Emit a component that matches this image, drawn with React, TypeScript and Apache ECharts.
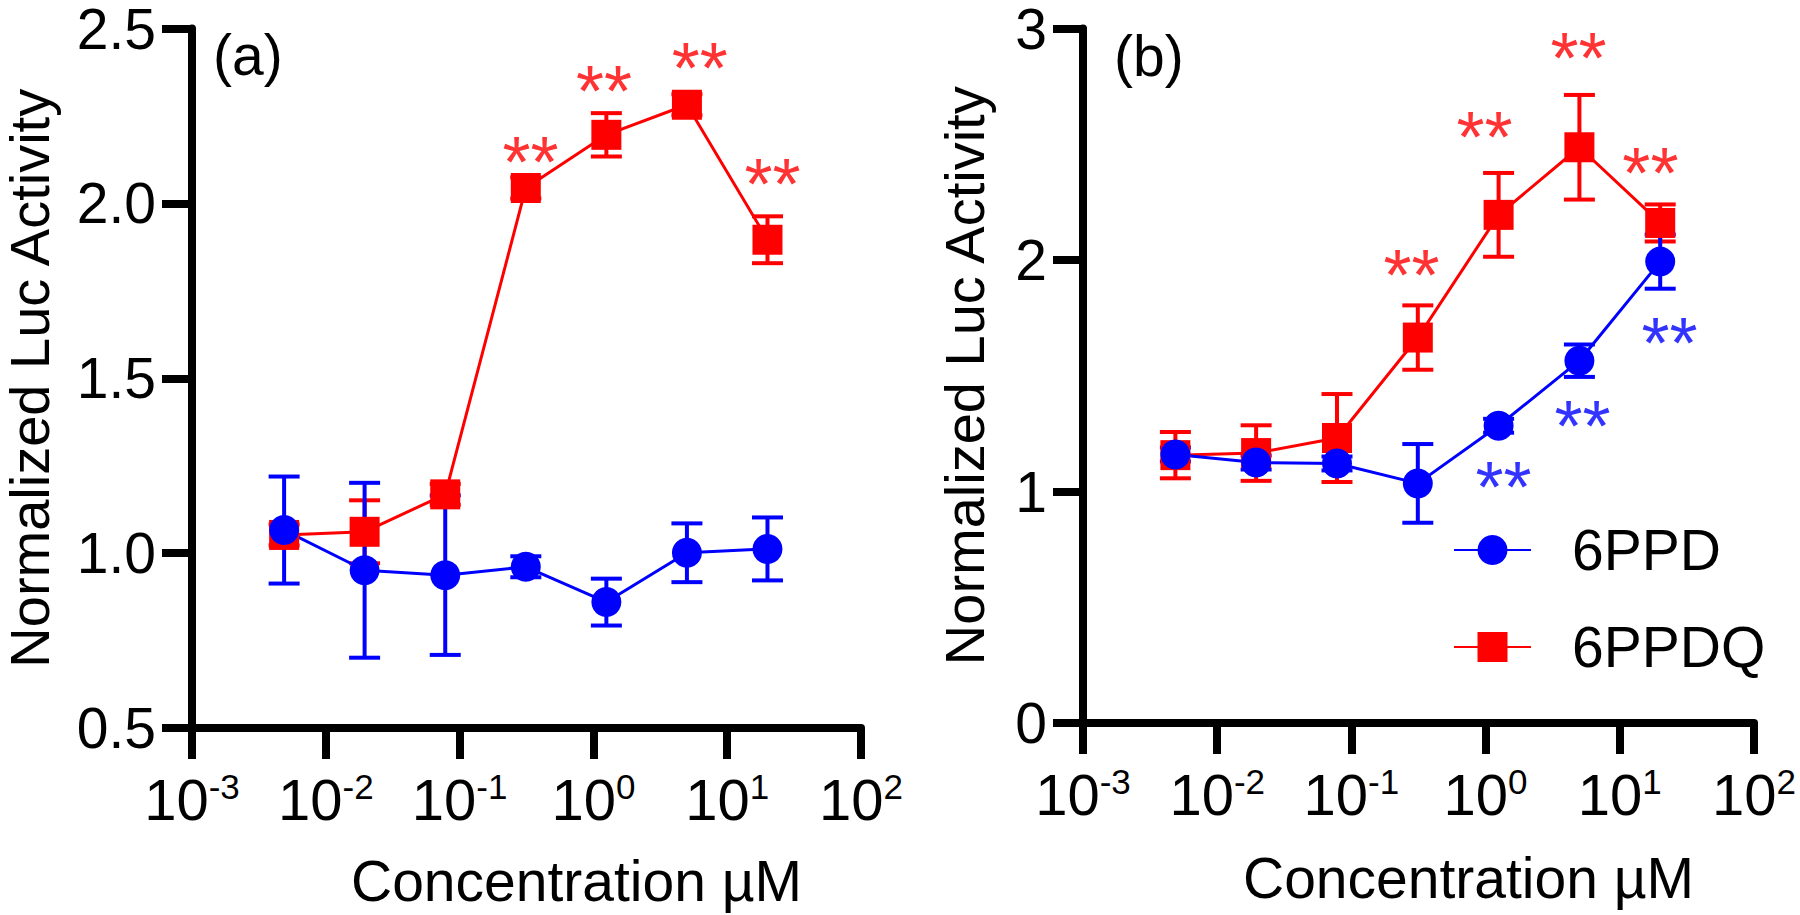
import React, { useEffect, useRef } from "react";
import * as echarts from "echarts";

const FONT = '"Liberation Sans", Arial, Helvetica, sans-serif';

// Concentrations (µM), 4-fold dilution series
const concentrations = [0.00488, 0.0195, 0.0781, 0.3125, 1.25, 5, 20];

// Panel (a)
const panelA_6PPD = [1.066, 0.951, 0.937, 0.961, 0.86, 1.001, 1.012];
const panelA_6PPD_err = [0.153, 0.25, 0.228, 0.03, 0.067, 0.084, 0.09];
const panelA_6PPDQ = [1.052, 1.061, 1.168, 2.044, 2.196, 2.282, 1.896];
const panelA_6PPDQ_err = [0.03, 0.09, 0.03, 0.03, 0.062, 0.03, 0.067];

// Panel (b)
const panelB_6PPD = [1.16, 1.125, 1.121, 1.035, 1.284, 1.565, 1.993];
const panelB_6PPD_err = [0.03, 0.03, 0.03, 0.17, 0.03, 0.07, 0.117];
const panelB_6PPDQ = [1.157, 1.166, 1.231, 1.665, 2.195, 2.487, 2.16];
const panelB_6PPDQ_err = [0.1, 0.12, 0.19, 0.139, 0.181, 0.226, 0.08];

// Significance markers (**) positions [concentration, value]
const starsA_red = [[0.339, 2.166], [1.2, 2.371], [6.23, 2.437], [21.8, 2.103]];
const starsB_red = [[0.281, 2.007], [0.98, 2.606], [4.92, 2.948], [16.9, 2.448]];
const starsB_blue = [[1.36, 1.095], [5.27, 1.356], [23.5, 1.716]];

const seriesNames = ["6PPD", "6PPDQ"];
const panelLabels = ["(a)", "(b)"];
const xTitle = "Concentration µM";
const yTitle = "Normalized Luc Activity";

const RED = "#ff0000";
const BLUE = "#0000ff";

function errRender(color: string) {
  return (params: any, api: any) => {
    const x = api.value(0);
    const y = api.value(1);
    const e = api.value(2);
    const top = api.coord([x, y + e]);
    const bot = api.coord([x, y - e]);
    const hw = 15.5;
    const style = { stroke: color, lineWidth: 4 };
    return {
      type: "group",
      children: [
        { type: "line", shape: { x1: top[0], y1: top[1], x2: bot[0], y2: bot[1] }, style },
        { type: "line", shape: { x1: top[0] - hw, y1: top[1], x2: top[0] + hw, y2: top[1] }, style },
        { type: "line", shape: { x1: bot[0] - hw, y1: bot[1], x2: bot[0] + hw, y2: bot[1] }, style },
      ],
    };
  };
}

function makeX(gridIndex: number, nameGap: number) {
  return {
    type: "log",
    logBase: 10,
    min: 0.001,
    max: 100,
    splitNumber: 5,
    gridIndex,
    axisLine: { show: true, onZero: false, lineStyle: { color: "#000", width: 8 } },
    axisTick: { show: true, length: 31, lineStyle: { color: "#000", width: 8 } },
    minorTick: { show: false },
    splitLine: { show: false },
    axisLabel: {
      margin: 41,
      showMinLabel: true,
      showMaxLabel: true,
      formatter: (v: number) => {
        const e = Math.round(Math.log10(v));
        return `{b|10}{s|${e}}`;
      },
      rich: {
        b: { fontSize: 58, lineHeight: 60, fontFamily: FONT, color: "#000" },
        s: { fontSize: 35, lineHeight: 35, verticalAlign: "top", fontFamily: FONT, color: "#000" },
      },
    },
    name: xTitle,
    nameLocation: "middle",
    nameGap,
    nameTextStyle: {
      fontSize: 57,
      lineHeight: 57,
      fontFamily: FONT,
      color: "#000",
      padding: [0, 0, 0, 100],
    },
  };
}

function makeY(gridIndex: number, min: number, max: number, interval: number, fmt: (v: number) => string, nameGap: number) {
  return {
    type: "value",
    gridIndex,
    min,
    max,
    interval,
    axisLine: { show: true, onZero: false, lineStyle: { color: "#000", width: 8 } },
    axisTick: { show: true, length: 30, lineStyle: { color: "#000", width: 8 } },
    splitLine: { show: false },
    axisLabel: { margin: 36, fontSize: 57, lineHeight: 40, fontFamily: FONT, color: "#000", formatter: fmt },
    name: yTitle,
    nameLocation: "middle",
    nameRotate: 90,
    nameGap,
    nameTextStyle: { fontSize: 56, lineHeight: 44, fontFamily: FONT, color: "#000" },
  };
}

function lineSeries(name: string, vals: number[], color: string, symbol: string, xi: number) {
  return {
    type: "line",
    name,
    xAxisIndex: xi,
    yAxisIndex: xi,
    data: concentrations.map((c, i) => [c, vals[i]]),
    symbol,
    symbolSize: 30,
    showSymbol: true,
    showAllSymbol: true,
    lineStyle: { color, width: 3 },
    itemStyle: { color },
    emphasis: { disabled: true },
    z: 2,
  };
}

function errSeries(vals: number[], errs: number[], color: string, xi: number) {
  return {
    type: "custom",
    xAxisIndex: xi,
    yAxisIndex: xi,
    data: concentrations.map((c, i) => [c, vals[i], errs[i]]),
    encode: { x: 0, y: 1 },
    renderItem: errRender(color),
    silent: true,
    z: 2,
  };
}

function starSeries(data: number[][], color: string, xi: number) {
  return {
    type: "scatter",
    xAxisIndex: xi,
    yAxisIndex: xi,
    data,
    symbol: "circle",
    symbolSize: 1,
    itemStyle: { color: "rgba(0,0,0,0)" },
    silent: true,
    label: {
      show: true,
      position: "inside",
      formatter: "**",
      fontSize: 72,
      lineHeight: 60,
      fontFamily: FONT,
      color,
      offset: [0, 17],
    },
    z: 3,
  };
}

export default function App() {
  const ref = useRef<HTMLDivElement>(null);

  useEffect(() => {
    if (!ref.current) return;
    const chart = echarts.init(ref.current, undefined, { renderer: "svg" });
    const option: any = {
      animation: false,
      backgroundColor: "#fff",
      textStyle: { fontFamily: FONT },
      grid: [
        { left: 190, top: 28, width: 671, height: 700 },
        { left: 1083, top: 22, width: 671, height: 701 },
      ],
      xAxis: [makeX(0, 124), makeX(1, 126)],
      yAxis: [
        makeY(0, 0.5, 2.5, 0.5, (v: number) => v.toFixed(1), 141),
        makeY(1, 0, 3, 1, (v: number) => String(v), 97),
      ],
      legend: {
        data: seriesNames,
        orient: "vertical",
        left: 1448,
        top: 515,
        itemWidth: 77,
        itemHeight: 37.5,
        itemGap: 37,
        selectedMode: false,
        textStyle: { fontSize: 57, lineHeight: 60, fontFamily: FONT, color: "#000", padding: [0, 0, 0, 36] },
      },
      graphic: [
        {
          type: "text",
          x: 213,
          y: 55,
          style: { text: panelLabels[0], fontSize: 57, fontFamily: FONT, fill: "#000", align: "left", verticalAlign: "middle" },
        },
        {
          type: "text",
          x: 1114,
          y: 56,
          style: { text: panelLabels[1], fontSize: 57, fontFamily: FONT, fill: "#000", align: "left", verticalAlign: "middle" },
        },
      ],
      series: [
        errSeries(panelA_6PPDQ, panelA_6PPDQ_err, RED, 0),
        lineSeries(seriesNames[1], panelA_6PPDQ, RED, "rect", 0),
        errSeries(panelA_6PPD, panelA_6PPD_err, BLUE, 0),
        lineSeries(seriesNames[0], panelA_6PPD, BLUE, "circle", 0),
        errSeries(panelB_6PPDQ, panelB_6PPDQ_err, RED, 1),
        lineSeries(seriesNames[1], panelB_6PPDQ, RED, "rect", 1),
        errSeries(panelB_6PPD, panelB_6PPD_err, BLUE, 1),
        lineSeries(seriesNames[0], panelB_6PPD, BLUE, "circle", 1),
        starSeries(starsA_red, RED, 0),
        starSeries(starsB_red, RED, 1),
        starSeries(starsB_blue, BLUE, 1),
      ],
    };
    chart.setOption(option);
    return () => chart.dispose();
  }, []);

  return (
    <div
      ref={ref}
      style={{ position: "absolute", left: 0, top: 0, width: 1800, height: 915, background: "#fff" }}
    />
  );
}
